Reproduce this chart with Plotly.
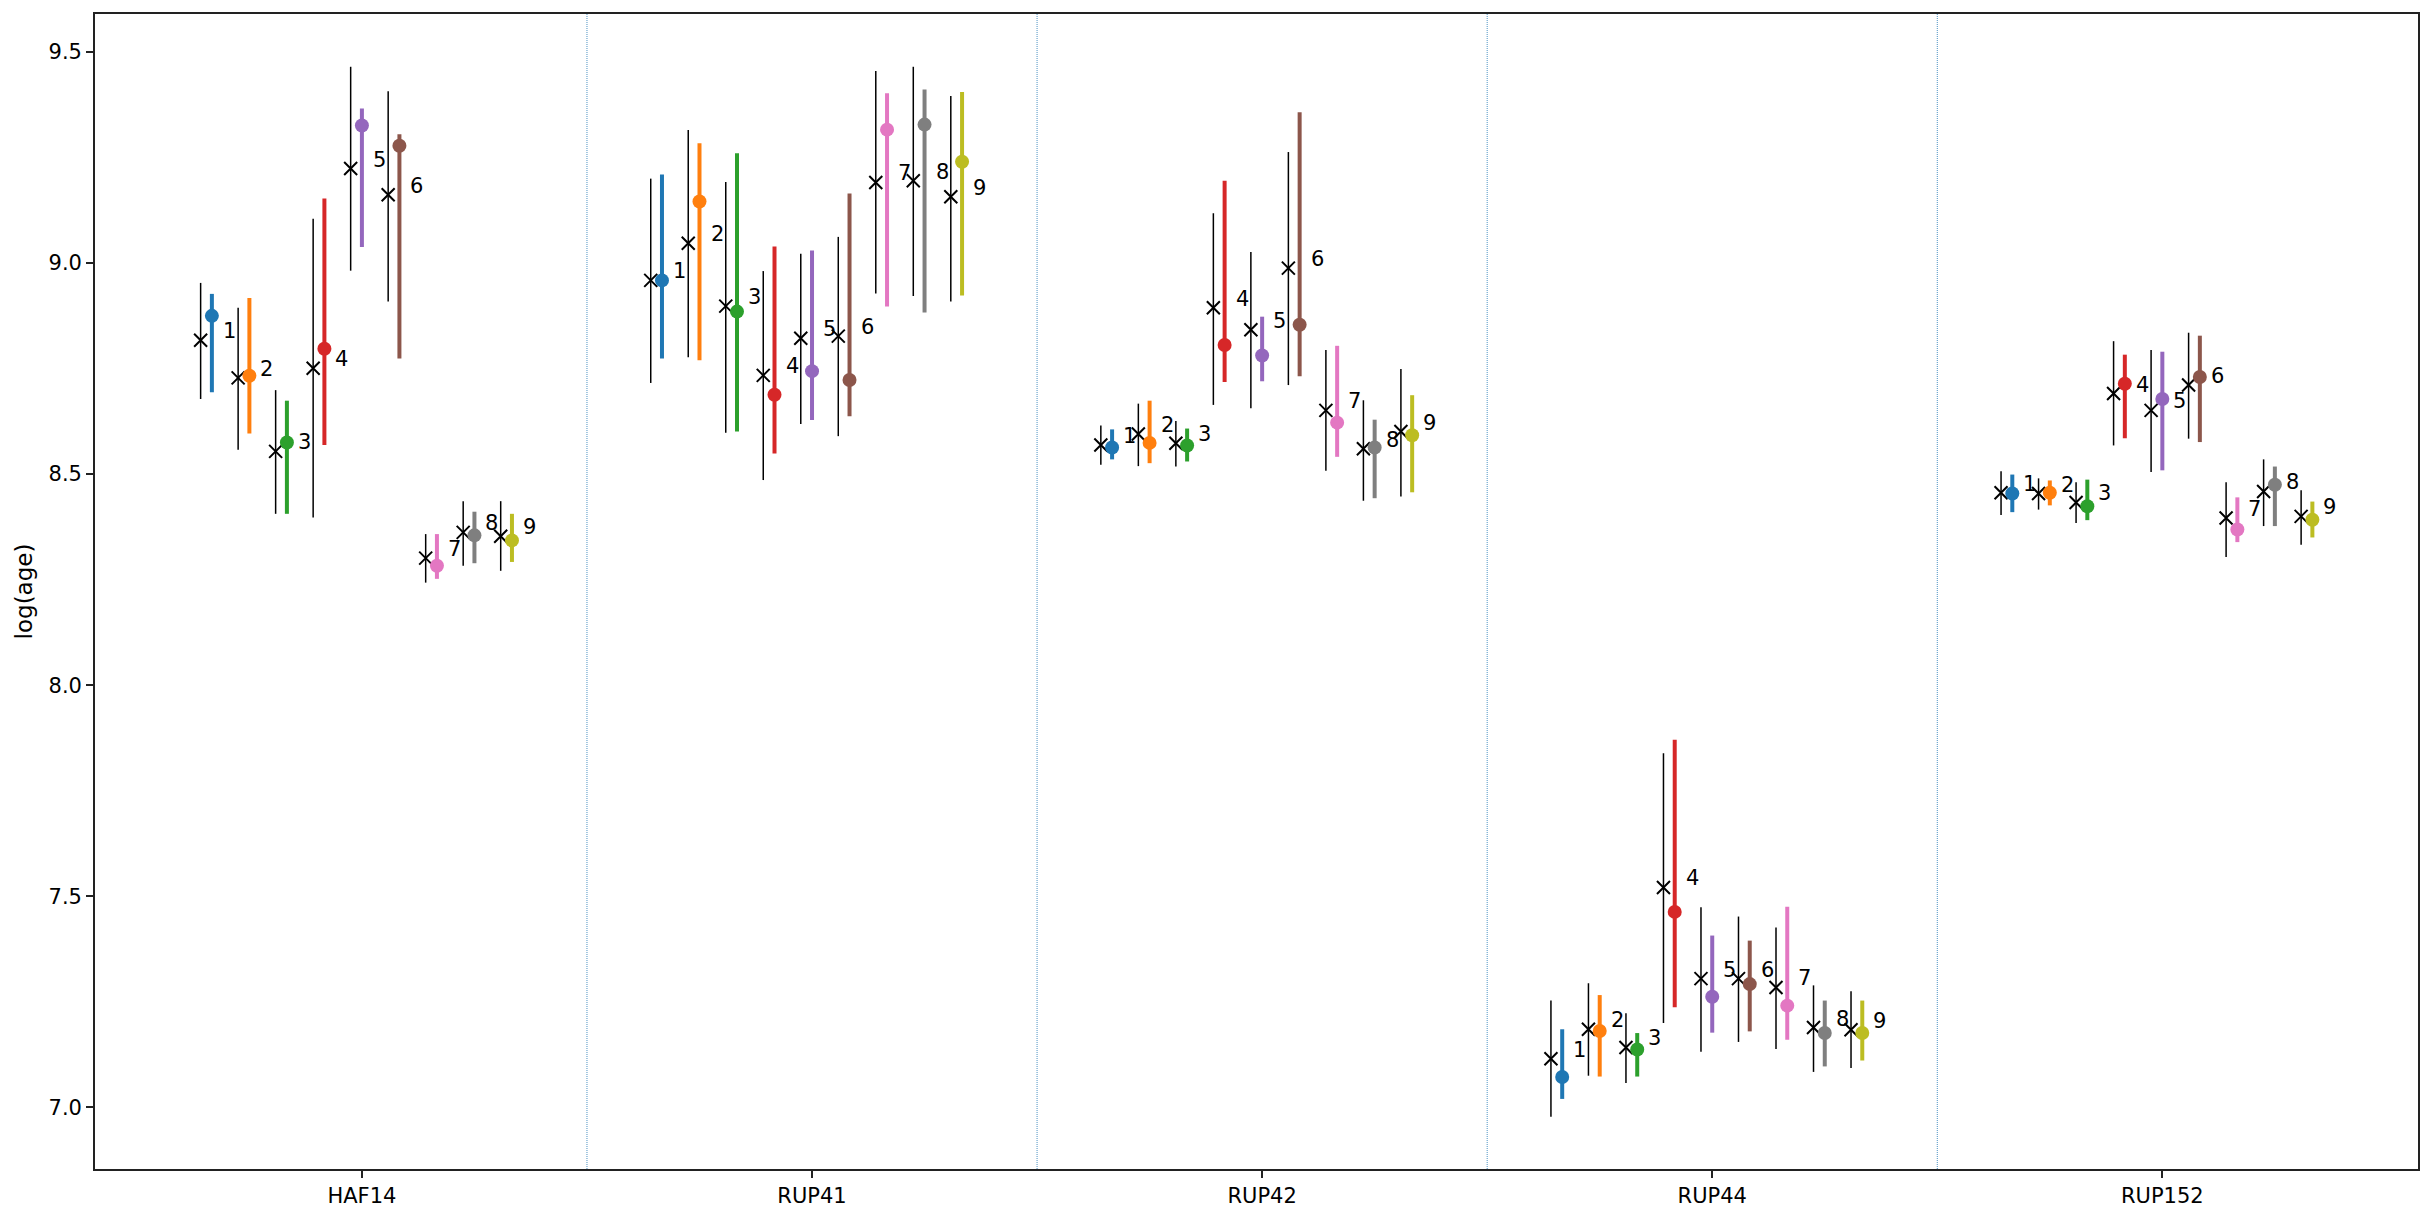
import plotly.graph_objects as go

clusters = ["HAF14", "RUP41", "RUP42", "RUP44", "RUP152"]
runs = [1, 2, 3, 4, 5, 6, 7, 8, 9]
run_colors = ["#1f77b4", "#ff7f0e", "#2ca02c", "#d62728", "#9467bd",
              "#8c564b", "#e377c2", "#7f7f7f", "#bcbd22"]

# reference (black x) estimates: value, lower, upper   [cluster][run]
ref_val = [
    [8.817, 8.728, 8.554, 8.751, 9.224, 9.162, 8.301, 8.362, 8.353],
    [8.959, 9.047, 8.898, 8.734, 8.822, 8.827, 9.191, 9.195, 9.157],
    [8.569, 8.595, 8.573, 8.894, 8.842, 8.988, 8.651, 8.560, 8.601],
    [7.115, 7.185, 7.142, 7.521, 7.305, 7.305, 7.284, 7.189, 7.184],
    [8.456, 8.454, 8.433, 8.691, 8.651, 8.711, 8.396, 8.459, 8.400],
]
ref_lo = [
    [8.678, 8.558, 8.406, 8.397, 8.982, 8.909, 8.243, 8.283, 8.271],
    [8.716, 8.777, 8.598, 8.486, 8.619, 8.590, 8.928, 8.922, 8.909],
    [8.522, 8.519, 8.518, 8.664, 8.656, 8.711, 8.508, 8.437, 8.447],
    [6.978, 7.075, 7.058, 7.200, 7.132, 7.155, 7.138, 7.084, 7.093],
    [8.403, 8.416, 8.384, 8.568, 8.505, 8.584, 8.304, 8.377, 8.333],
]
ref_hi = [
    [8.953, 8.894, 8.699, 9.105, 9.465, 9.407, 8.358, 8.436, 8.436],
    [9.200, 9.315, 9.192, 8.981, 9.022, 9.062, 9.455, 9.465, 9.396],
    [8.615, 8.667, 8.626, 9.118, 9.026, 9.263, 8.794, 8.675, 8.749],
    [7.253, 7.294, 7.223, 7.839, 7.474, 7.452, 7.426, 7.289, 7.275],
    [8.507, 8.490, 8.481, 8.815, 8.794, 8.835, 8.481, 8.535, 8.462],
]

# run estimates (coloured dots): value, lower, upper   [cluster][run]
run_val = [
    [8.875, 8.733, 8.575, 8.797, 9.326, 9.278, 8.283, 8.355, 8.343],
    [8.959, 9.146, 8.885, 8.688, 8.744, 8.723, 9.316, 9.328, 9.240],
    [8.563, 8.574, 8.568, 8.806, 8.781, 8.854, 8.622, 8.563, 8.592],
    [7.072, 7.181, 7.137, 7.463, 7.262, 7.292, 7.241, 7.176, 7.176],
    [8.454, 8.456, 8.424, 8.714, 8.678, 8.730, 8.369, 8.475, 8.392],
]
run_lo = [
    [8.694, 8.596, 8.406, 8.569, 9.038, 8.774, 8.252, 8.289, 8.292],
    [8.774, 8.770, 8.601, 8.549, 8.628, 8.637, 8.897, 8.883, 8.923],
    [8.535, 8.526, 8.530, 8.718, 8.720, 8.732, 8.541, 8.443, 8.457],
    [7.020, 7.073, 7.073, 7.237, 7.177, 7.180, 7.160, 7.097, 7.111],
    [8.410, 8.426, 8.391, 8.585, 8.509, 8.576, 8.339, 8.377, 8.350],
]
run_hi = [
    [8.927, 8.917, 8.674, 9.153, 9.366, 9.305, 8.358, 8.411, 8.406],
    [9.210, 9.284, 9.260, 9.039, 9.030, 9.165, 9.402, 9.411, 9.405],
    [8.606, 8.674, 8.608, 9.195, 8.873, 9.357, 8.804, 8.629, 8.687],
    [7.185, 7.266, 7.176, 7.871, 7.407, 7.395, 7.475, 7.253, 7.253],
    [8.499, 8.485, 8.487, 8.783, 8.790, 8.828, 8.445, 8.518, 8.435],
]

RUN_STEP = 1.0 / 12
REF_SHIFT = -0.025
LABEL_SHIFT = 0.045

fig = go.Figure()
nC = len(clusters)
for j, r in enumerate(runs):
    xc = [k + (r - 5) * RUN_STEP for k in range(nC)]
    xb = [x + REF_SHIFT for x in xc]
    yb = [ref_val[k][j] for k in range(nC)]
    fig.add_trace(go.Scatter(
        x=xb, y=yb, mode="markers", showlegend=False,
        marker=dict(symbol="x-thin", size=13, color="black",
                    line=dict(color="black", width=2)),
        error_y=dict(type="data", symmetric=False,
                     array=[ref_hi[k][j] - ref_val[k][j] for k in range(nC)],
                     arrayminus=[ref_val[k][j] - ref_lo[k][j] for k in range(nC)],
                     color="black", thickness=1.5, width=0),
    ))
    fig.add_trace(go.Scatter(
        x=xc, y=[run_val[k][j] for k in range(nC)], mode="markers", showlegend=False,
        marker=dict(symbol="circle", size=14, color=run_colors[j], line=dict(width=0)),
        error_y=dict(type="data", symmetric=False,
                     array=[run_hi[k][j] - run_val[k][j] for k in range(nC)],
                     arrayminus=[run_val[k][j] - run_lo[k][j] for k in range(nC)],
                     color=run_colors[j], thickness=4, width=0),
    ))
    for k in range(nC):
        fig.add_annotation(x=xb[k] + LABEL_SHIFT, y=yb[k], text=str(r),
                           xref="x", yref="y", showarrow=False,
                           xanchor="left", yanchor="bottom", yshift=-5,
                           font=dict(family="DejaVu Sans", size=21, color="black"))

for k in range(nC - 1):
    fig.add_shape(type="line", xref="x", yref="paper", x0=k + 0.5, x1=k + 0.5,
                  y0=0, y1=1, line=dict(color="rgba(31,119,180,0.8)", width=1, dash="1px,1px"),
                  layer="below")

fig.update_layout(
    width=2435, height=1219,
    margin=dict(l=95, r=17, t=14, b=50, autoexpand=False),
    paper_bgcolor="white", plot_bgcolor="white",
    font=dict(family="DejaVu Sans", size=21, color="black"),
    xaxis=dict(range=[-0.593, 4.568], tickmode="array", tickvals=list(range(nC)),
               ticktext=clusters, showgrid=False, zeroline=False,
               showline=True, mirror=True, linecolor="#222222", linewidth=1.7,
               ticks="outside", ticklen=7, tickwidth=1.7, tickcolor="#222222",
               tickfont=dict(size=21)),
    yaxis=dict(range=[6.854, 9.590], tickmode="array",
               tickvals=[7.0, 7.5, 8.0, 8.5, 9.0, 9.5],
               ticktext=["7.0", "7.5", "8.0", "8.5", "9.0", "9.5"],
               showgrid=False, zeroline=False,
               showline=True, mirror=True, linecolor="#222222", linewidth=1.7,
               ticks="outside", ticklen=7, tickwidth=1.7, tickcolor="#222222",
               tickfont=dict(size=21),
               title=dict(text="log(age)", font=dict(size=23), standoff=9)),
)

fig.write_html("out.html")
